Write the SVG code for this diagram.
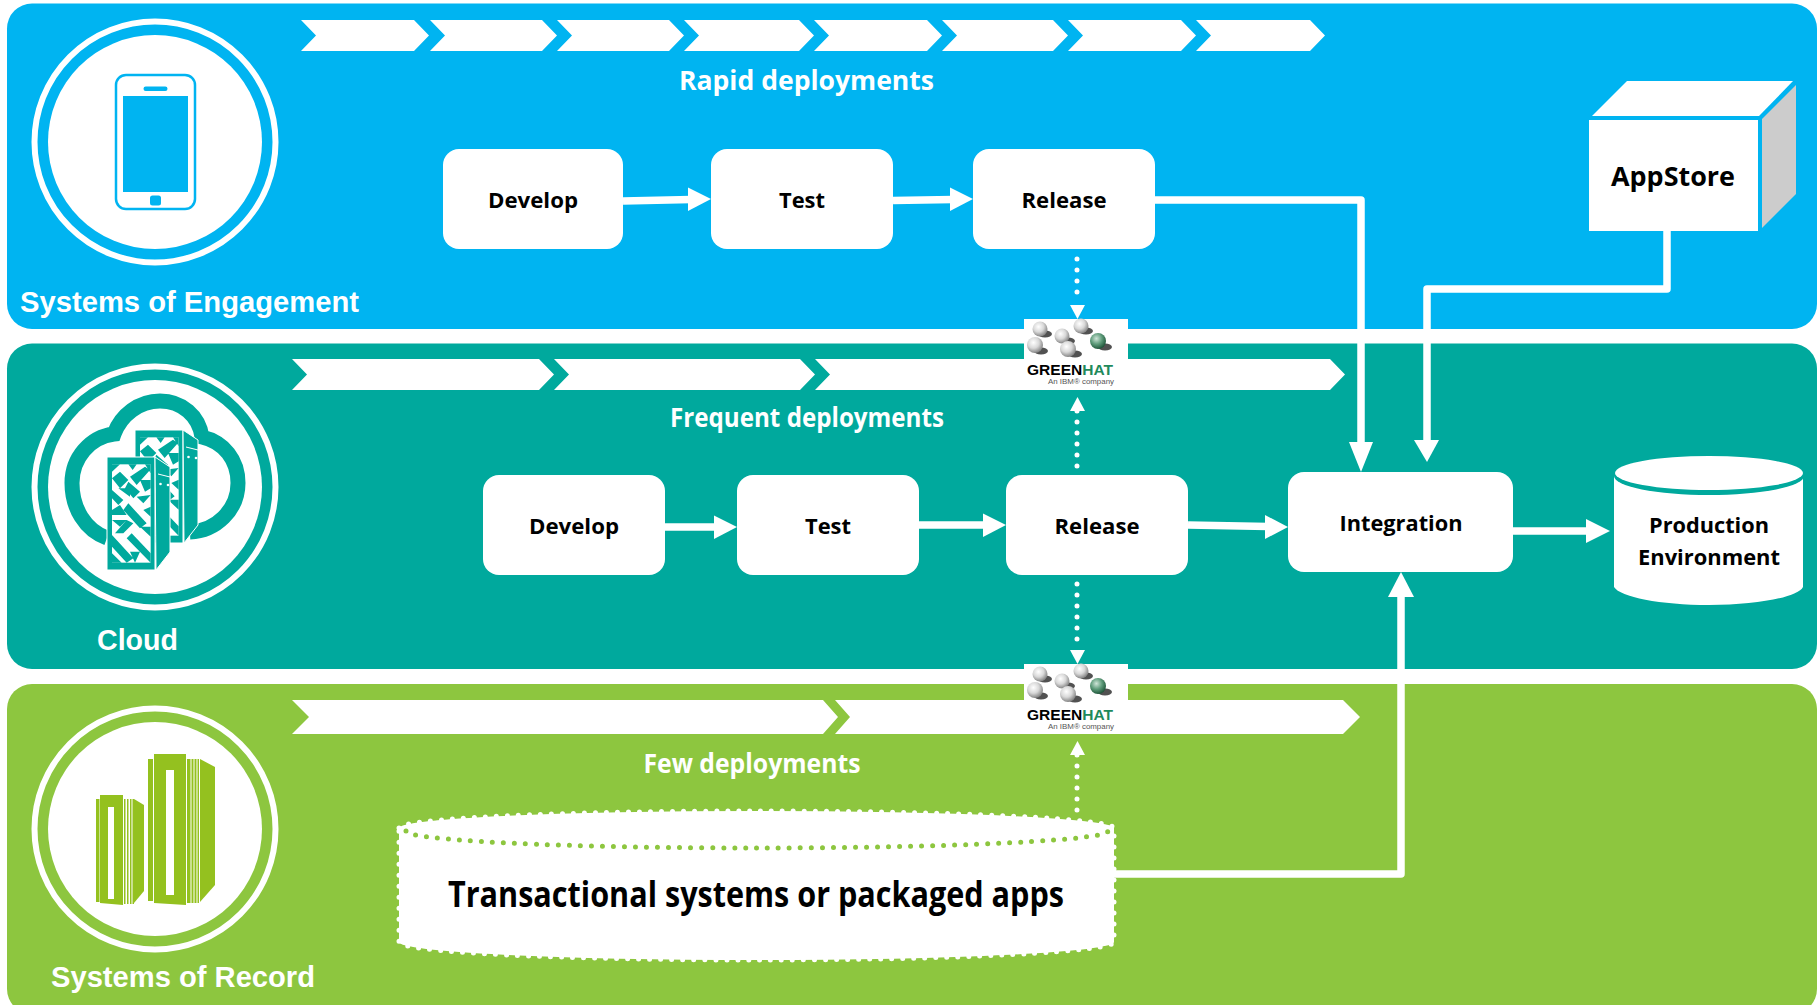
<svg xmlns="http://www.w3.org/2000/svg" width="1817" height="1005" viewBox="0 0 1817 1005">
<style>
.lbl{font-family:"Liberation Sans",Arial,sans-serif;font-weight:700;font-size:29px;fill:#fff}
.sub{font-family:"Open Sans","Noto Sans",sans-serif;font-weight:700;font-size:26px;fill:#fff;text-anchor:middle}
.bx{font-family:"Open Sans","Noto Sans",sans-serif;font-weight:700;font-size:22px;fill:#000;text-anchor:middle}
.box{fill:#fff;rx:16px;ry:16px}
.chev{fill:#fff}
.conn{fill:none;stroke:#fff;stroke-width:7.500;stroke-linejoin:round}
.dot{fill:none;stroke:#fff;stroke-width:5;stroke-linecap:round;stroke-dasharray:0 11}
.head{fill:#fff}
.ring{fill:none;stroke:#fff;stroke-width:6}
.gs{fill:#94c11f}
</style>
<defs>
<radialGradient id="ball" cx="40%" cy="35%" r="70%"><stop offset="0" stop-color="#fff"/><stop offset="0.5" stop-color="#d8d8d8"/><stop offset="1" stop-color="#777"/></radialGradient>
<radialGradient id="gball" cx="40%" cy="35%" r="70%"><stop offset="0" stop-color="#cfe5d8"/><stop offset="0.5" stop-color="#5f9c7b"/><stop offset="1" stop-color="#174d32"/></radialGradient>
<g id="srvp">
<rect x="66" y="133" width="116" height="295" fill="#fff"/>
<path fill="#00a99d" d="M66 133H90L66 155ZM115 133H140L128 150ZM165 133H182V160ZM66 175L90 155L115 180L90 205ZM120 170L165 140L180 150L140 195ZM66 210L100 240L85 255L66 235ZM115 185L150 215L130 235L105 205ZM150 180H182V205L165 215ZM85 205L120 205L120 230ZM140 230L182 225L160 250ZM66 270L90 255L110 285L66 285ZM115 250L170 310L150 325L100 270ZM160 270L182 260V290ZM66 300H110L90 320ZM130 310L100 340L75 340L110 300ZM66 345L130 415L110 428L66 380ZM125 340L182 400V428L110 355ZM150 320H182V350ZM66 400L95 428H66ZM120 395L150 395L135 428Z"/>
</g>
<g id="server">
<rect x="107" y="457" width="48" height="113" fill="#00a99d" stroke="#fff"/>
<path d="M155 457L170 467V552L156 570Z" fill="#00a99d" stroke="#fff"/>
<use href="#srvp" transform="translate(90 420) scale(.33333)"/>
<path d="M158 474L170 477" stroke="#fff" fill="none"/>
<circle cx="160.500" cy="484" r="1.300" fill="#fff"/><circle cx="168" cy="485" r="1.300" fill="#fff"/>
</g>
<g id="logo">
<rect x="1024" y="0" width="104" height="70" fill="#fff"/>
<g fill="#333" opacity=".85"><ellipse cx="1045" cy="15" rx="7" ry="3.500"/><ellipse cx="1068" cy="22" rx="7" ry="3.500"/><ellipse cx="1086" cy="12" rx="7" ry="3.500"/><ellipse cx="1041" cy="32" rx="7" ry="3.500"/><ellipse cx="1075" cy="35" rx="7" ry="3.500"/><ellipse cx="1105" cy="28" rx="7" ry="3.500"/></g>
<circle cx="1040" cy="10" r="7.500" fill="url(#ball)"/><circle cx="1062" cy="17" r="7.500" fill="url(#ball)"/><circle cx="1081" cy="7" r="7.500" fill="url(#ball)"/><circle cx="1035" cy="26" r="8" fill="url(#ball)"/><circle cx="1068" cy="30" r="8" fill="url(#ball)"/><circle cx="1098" cy="22" r="8" fill="url(#gball)"/>
<text x="1027" y="56" font-family="'Liberation Sans',Arial,sans-serif" font-weight="700" font-size="15" textLength="86" lengthAdjust="spacingAndGlyphs">GREEN<tspan fill="#1f8a5c">HAT</tspan></text>
<text x="1048" y="65" font-family="'Liberation Sans',Arial,sans-serif" font-size="7.500" fill="#555" textLength="66" lengthAdjust="spacingAndGlyphs">An IBM® company</text>
</g>
</defs>
<rect width="1817" height="1005" fill="#fff"/>
<g id="band-engagement">
<rect x="7" y="3.500" width="1810" height="325.500" rx="25" fill="#00b4f1"/>
<g class="chev">
<path d="M301 20H414L429 35.500L414 51H301L316 35.500Z"/><path d="M430 20H542L557 35.500L542 51H430L445 35.500Z"/><path d="M557 20H669L684 35.500L669 51H557L572 35.500Z"/><path d="M684 20H799L814 35.500L799 51H684L699 35.500Z"/><path d="M814 20H927L942 35.500L927 51H814L829 35.500Z"/><path d="M942 20H1053L1068 35.500L1053 51H942L957 35.500Z"/><path d="M1068 20H1181L1196 35.500L1181 51H1068L1083 35.500Z"/><path d="M1196 20H1310L1325 35.500L1310 51H1196L1211 35.500Z"/>
</g>
<text class="sub" x="806.500" y="90" textLength="255" lengthAdjust="spacingAndGlyphs">Rapid deployments</text>
<circle class="ring" cx="155" cy="142" r="120.500"/><circle cx="155" cy="142" r="107" fill="#fff"/>
<rect x="116" y="75" width="79" height="134" rx="10" fill="none" stroke="#00b4f1" stroke-width="2.500"/>
<rect x="123" y="96" width="65" height="96" fill="#00b4f1"/><rect x="143.500" y="86.500" width="24" height="4.500" rx="2.200" fill="#00b4f1"/><rect x="150" y="195.500" width="11" height="10" rx="2.500" fill="#00b4f1"/>
<text class="lbl" x="20" y="312" textLength="339" lengthAdjust="spacingAndGlyphs">Systems of Engagement</text>
</g>
<g id="band-cloud">
<rect x="7" y="343.500" width="1810" height="325.500" rx="25" fill="#00a99d"/>
<g class="chev">
<path d="M292 359H539L554 374.500L539 390H292L307 374.500Z"/><path d="M554 359H800L815 374.500L800 390H554L569 374.500Z"/><path d="M815 359H1330L1345 374.500L1330 390H815L830 374.500Z"/>
</g>
<text class="sub" x="807" y="427" textLength="274" lengthAdjust="spacingAndGlyphs">Frequent deployments</text>
<circle class="ring" cx="155" cy="487" r="120.500"/><circle cx="155" cy="487" r="107" fill="#fff"/>
<path d="M107 538C85 530 72 508 72 483C72 458 90 437 114 434C121 415 139 401 160 401C182 401 199 416 202 437C224 442 238 460 238 483C238 510 216 531 190 532" fill="none" stroke="#00a99d" stroke-width="15"/>
<use id="srv-back" href="#server" transform="translate(28 -27)"/>
<use id="srv-front" href="#server"/>
<text class="lbl" x="97" y="650" textLength="81" lengthAdjust="spacingAndGlyphs">Cloud</text>
</g>
<g id="band-record">
<rect x="7" y="684" width="1810" height="330" rx="25" fill="#8dc63f"/>
<g class="chev">
<path d="M292 700H823L838 717L823 734H292L309 717Z"/><path d="M835 700H1343L1360 717L1343 734H835L850 717Z"/>
</g>
<text class="sub" x="752" y="773" textLength="217" lengthAdjust="spacingAndGlyphs">Few deployments</text>
<circle class="ring" cx="155" cy="829" r="120.500"/><circle cx="155" cy="829" r="107" fill="#fff"/>
<g class="gs">
<rect x="96" y="799" width="3.500" height="103"/><path d="M100 795H123V905L100 903ZM108 807V899H114V807Z" fill-rule="evenodd"/>
<rect x="124" y="799" width="1.500" height="105"/><rect x="127" y="799" width="1.500" height="105"/><rect x="130" y="799" width="1.500" height="105"/><rect x="132.500" y="799" width="1.500" height="105"/>
<path d="M134 799L144 805V891L134 903Z"/>
<rect x="148" y="759" width="5" height="142"/><path d="M154 754H186V905L154 903ZM166 770V895H174V770Z" fill-rule="evenodd"/>
<rect x="187" y="759" width="3.500" height="144"/><rect x="191.500" y="759" width="2" height="144"/><rect x="194.500" y="759" width="2" height="144"/><rect x="197.500" y="759" width="1.500" height="144"/>
<path d="M200 759L215 767V885L200 902Z"/>
</g>
<text class="lbl" x="51" y="987" textLength="264" lengthAdjust="spacingAndGlyphs">Systems of Record</text>
</g>
<g id="connectors">
<path class="conn" d="M623 201L691 199.500"/><path class="head" d="M688 187.500L711 199L688 211Z"/>
<path class="conn" d="M893 200.500L953 199.500"/><path class="head" d="M950 187.500L973 199L950 211Z"/>
<path class="conn" d="M1155 200H1361V450"/><path class="head" d="M1349 442H1373L1361 472Z"/>
<path class="conn" d="M1667 231V289H1427V442"/><path class="head" d="M1414 440H1439L1427 462Z"/>
<path class="conn" d="M665 527H717"/><path class="head" d="M714 515.500L737 527L714 539Z"/>
<path class="conn" d="M919 525H986"/><path class="head" d="M983 513.500L1006 525L983 537Z"/>
<path class="conn" d="M1188 525L1268 526.500"/><path class="head" d="M1265 515L1288 527L1265 539Z"/>
<path class="conn" d="M1513 531H1590"/><path class="head" d="M1586 519L1610 531L1586 543Z"/>
<path class="conn" d="M1114 874H1401V595"/><path class="head" d="M1388 597L1401 572L1414 597Z"/>
<path class="dot" d="M1077 259V303"/>
<path class="dot" d="M1077 411V471"/>
<path class="dot" d="M1077 584V650"/>
<path class="dot" d="M1077 755V811"/>
<path class="head" d="M1070 305H1085L1077.500 319Z"/>
<path class="head" d="M1070 411H1085L1077.500 397Z"/>
<path class="head" d="M1070 650H1085L1077.500 664Z"/>
<path class="head" d="M1070 755H1085L1077.500 741Z"/>
</g>
<g id="logo-1"><use href="#logo" y="319"/></g>
<g id="logo-2"><use href="#logo" y="664"/></g>
<g id="develop-1"><rect class="box" x="443" y="149" width="180" height="100"/><text class="bx" x="533" y="208" textLength="90" lengthAdjust="spacingAndGlyphs">Develop</text></g>
<g id="test-1"><rect class="box" x="711" y="149" width="182" height="100"/><text class="bx" x="802" y="208" textLength="46" lengthAdjust="spacingAndGlyphs">Test</text></g>
<g id="release-1"><rect class="box" x="973" y="149" width="182" height="100"/><text class="bx" x="1064" y="208" textLength="85" lengthAdjust="spacingAndGlyphs">Release</text></g>
<g id="develop-2"><rect class="box" x="483" y="475" width="182" height="100"/><text class="bx" x="574" y="534" textLength="90" lengthAdjust="spacingAndGlyphs">Develop</text></g>
<g id="test-2"><rect class="box" x="737" y="475" width="182" height="100"/><text class="bx" x="828" y="534" textLength="46" lengthAdjust="spacingAndGlyphs">Test</text></g>
<g id="release-2"><rect class="box" x="1006" y="475" width="182" height="100"/><text class="bx" x="1097" y="534" textLength="85" lengthAdjust="spacingAndGlyphs">Release</text></g>
<g id="integration"><rect class="box" x="1288" y="472" width="225" height="100"/><text class="bx" x="1401" y="531" textLength="123" lengthAdjust="spacingAndGlyphs">Integration</text></g>
<g id="appstore">
<path d="M1592 116L1627 81H1793L1759 116Z" fill="#fff"/><path d="M1762 119L1796 85V194L1762 228Z" fill="#ccc"/><rect x="1589" y="120" width="169" height="111" fill="#fff"/>
<text class="bx" x="1673" y="186" style="font-size:27px" textLength="124" lengthAdjust="spacingAndGlyphs">AppStore</text>
</g>
<g id="production">
<path d="M1614 476V587C1620 597 1660 605 1709 605C1758 605 1798 597 1803 587V476Z" fill="#fff"/>
<ellipse cx="1709" cy="476" rx="95" ry="19" fill="#00a99d"/>
<ellipse cx="1709" cy="473" rx="94" ry="17" fill="#fff"/>
<text class="bx" x="1709" y="533" textLength="120" lengthAdjust="spacingAndGlyphs">Production</text>
<text class="bx" x="1709" y="565" textLength="142" lengthAdjust="spacingAndGlyphs">Environment</text>
</g>
<g id="transactional">
<path d="M399 828A357 17 0 0 1 1114 828V942A357 18 0 0 1 399 942Z" fill="#fff" stroke="#fff" stroke-width="5" stroke-linecap="round" stroke-dasharray="0 11"/>
<path d="M401 828A355 16 0 0 1 1112 828V942A355 16.500 0 0 1 401 942Z" fill="#fff"/>
<path d="M406 831A351 17 0 0 0 1108 831" fill="none" stroke="#8dc63f" stroke-width="5" stroke-linecap="round" stroke-dasharray="0 11"/>
<text x="756" y="907" text-anchor="middle" font-family="'Open Sans','Noto Sans',sans-serif" font-weight="700" font-size="35" fill="#000" textLength="616" lengthAdjust="spacingAndGlyphs">Transactional systems or packaged apps</text>
</g>
</svg>
